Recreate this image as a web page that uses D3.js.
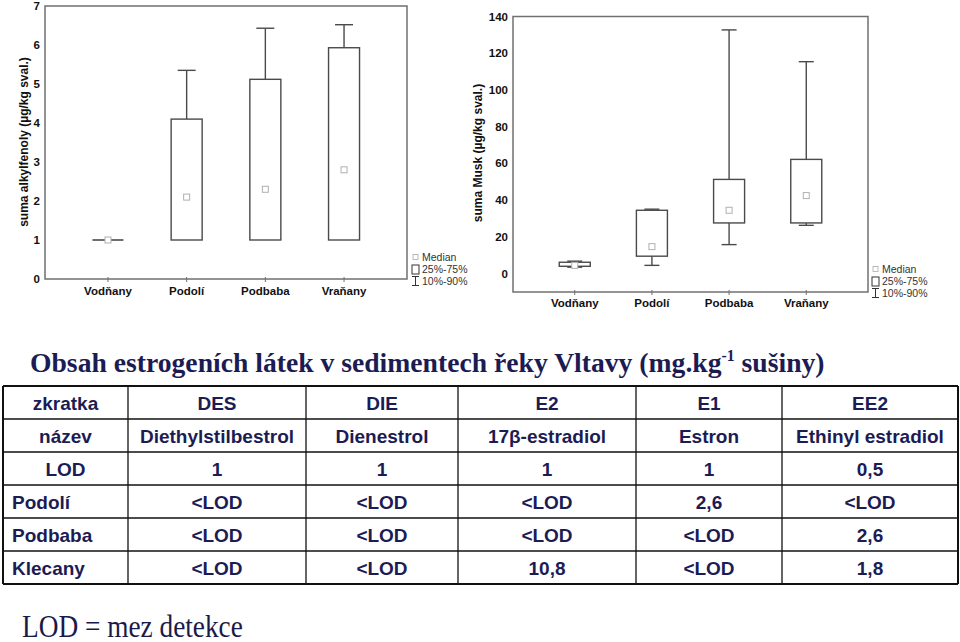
<!DOCTYPE html>
<html>
<head>
<meta charset="utf-8">
<script src="https://cdn.jsdelivr.net/npm/d3@7"></script>
<style>
  body { margin: 0; background: #fff; }
  svg { display: block; }
</style>
</head>
<body>
<svg id="chart" width="960" height="642"></svg>
<script>
// kategorie (lokality)
let cats = ["Vodňany", "Podolí", "Podbaba", "Vraňany"];

// suma alkylfenoly
let alkP10 = [1, 1, 1, 1];
let alkQ1 = [1, 1, 1, 1];
let alkMed = [1, 2.1, 2.3, 2.8];
let alkQ3 = [1, 4.1, 5.12, 5.93];
let alkP90 = [1, 5.35, 6.43, 6.52];
let alkTicks = [0, 1, 2, 3, 4, 5, 6, 7];

// suma Musk
let muskP10 = [3.5, 4.5, 15.8, 26.3];
let muskQ1 = [4, 9.5, 27.6, 27.6];
let muskMed = [4.5, 14.7, 34.5, 42.5];
let muskQ3 = [6.2, 34.5, 51.3, 62.2];
let muskP90 = [6.8, 35.1, 132.7, 115.4];
let muskTicks = [0, 20, 40, 60, 80, 100, 120, 140];

let legendLabels = ["Median", "25%-75%", "10%-90%"];

// tabulka
let tabHead = ["zkratka", "DES", "DIE", "E2", "E1", "EE2"];
let tabNames = ["název", "Diethylstilbestrol", "Dienestrol", "17β-estradiol", "Estron", "Ethinyl estradiol"];
let tabLod = ["LOD", "1", "1", "1", "1", "0,5"];
let tabSites = ["Podolí", "Podbaba", "Klecany"];
let tabValues = [
    ["<LOD", "<LOD", "<LOD", "2,6", "<LOD"],
    ["<LOD", "<LOD", "<LOD", "<LOD", "2,6"],
    ["<LOD", "<LOD", "10,8", "<LOD", "1,8"]
];

let svg = d3.select('#chart');
let navy = '#1c1c54';
let lineCol = '#4a4a4a';

function boxChart(opt) {
    let x = d3.scalePoint().domain(cats).range([opt.x0, opt.x1]).padding(0.8);
    let y = d3.scaleLinear().domain(opt.domain).range([opt.y1, opt.y0]);
    let g = svg.append('g');

    // ramecek
    g.append('rect')
        .attr('x', opt.x0).attr('y', opt.y0)
        .attr('width', opt.x1 - opt.x0).attr('height', opt.y1 - opt.y0)
        .attr('fill', 'none').attr('stroke', '#707070').attr('stroke-width', 1.5);

    // osa y
    g.selectAll('.ytick')
        .data(opt.ticks)
        .join('text')
        .attr('x', opt.x0 - 5)
        .attr('y', d => y(d) + 4)
        .attr('text-anchor', 'end')
        .attr('font-family', 'Liberation Sans, Arial, sans-serif')
        .attr('font-weight', 'bold')
        .attr('font-size', '11.5px')
        .attr('fill', '#111')
        .text(d => d);

    // osa x
    g.selectAll('.xtick')
        .data(cats)
        .join('line')
        .attr('x1', d => x(d)).attr('x2', d => x(d))
        .attr('y1', opt.y1 - 2).attr('y2', opt.y1 + 3)
        .attr('stroke', '#707070').attr('stroke-width', 1);

    g.selectAll('.xlab')
        .data(cats)
        .join('text')
        .attr('x', d => x(d))
        .attr('y', opt.labY)
        .attr('text-anchor', 'middle')
        .attr('font-family', 'Liberation Sans, Arial, sans-serif')
        .attr('font-weight', 'bold')
        .attr('font-size', '11.5px')
        .attr('fill', '#111')
        .text(d => d);

    g.append('text')
        .attr('transform', 'translate(' + opt.titleX + ',' + opt.titleY + ') rotate(-90)')
        .attr('text-anchor', 'middle')
        .attr('font-family', 'Liberation Sans, Arial, sans-serif')
        .attr('font-weight', 'bold')
        .attr('font-size', '12px')
        .attr('fill', '#111')
        .text(opt.title);

    let bw = 31;
    let cw = opt.cap;
    cats.forEach(function(c, i) {
        let cx = x(c);
        // whiskery
        [[opt.q3[i], opt.p90[i]], [opt.q1[i], opt.p10[i]]].forEach(function(w) {
            if (w[0] === w[1]) return;
            g.append('line')
                .attr('x1', cx).attr('x2', cx)
                .attr('y1', y(w[0])).attr('y2', y(w[1]))
                .attr('stroke', lineCol).attr('stroke-width', 1.4);
            g.append('line')
                .attr('x1', cx - cw / 2).attr('x2', cx + cw / 2)
                .attr('y1', y(w[1])).attr('y2', y(w[1]))
                .attr('stroke', lineCol).attr('stroke-width', 1.4);
        });
        // box
        if (opt.q3[i] === opt.q1[i]) {
            g.append('line')
                .attr('x1', cx - bw / 2).attr('x2', cx + bw / 2)
                .attr('y1', y(opt.q1[i])).attr('y2', y(opt.q1[i]))
                .attr('stroke', lineCol).attr('stroke-width', 1.6);
        } else {
            g.append('rect')
                .attr('x', cx - bw / 2).attr('y', y(opt.q3[i]))
                .attr('width', bw).attr('height', y(opt.q1[i]) - y(opt.q3[i]))
                .attr('fill', 'none').attr('stroke', lineCol).attr('stroke-width', 1.4);
        }
        // median
        g.append('rect')
            .attr('x', cx - 3).attr('y', y(opt.med[i]) - 3)
            .attr('width', 6).attr('height', 6)
            .attr('fill', '#fff').attr('stroke', '#b0b0b0').attr('stroke-width', 1);
    });

    // legenda
    let lg = g.append('g').attr('transform', 'translate(' + opt.legX + ',' + opt.legY + ')');
    lg.append('rect').attr('x', 1).attr('y', -2.5).attr('width', 5).attr('height', 5)
        .attr('fill', 'none').attr('stroke', '#aaa').attr('stroke-width', 0.8);
    lg.append('rect').attr('x', 0).attr('y', 8).attr('width', 7).attr('height', 9)
        .attr('fill', 'none').attr('stroke', '#333').attr('stroke-width', 1);
    lg.append('path').attr('d', 'M0,19.5H7M3.5,19.5V28.5M0,28.5H7')
        .attr('fill', 'none').attr('stroke', '#333').attr('stroke-width', 1);
    lg.selectAll('.lt')
        .data(legendLabels)
        .join('text')
        .attr('x', 10)
        .attr('y', (d, i) => i * 12 + 4)
        .attr('font-family', 'Liberation Sans, Arial, sans-serif')
        .attr('font-size', '10.5px')
        .attr('fill', '#333')
        .text(d => d);
}

boxChart({
    x0: 45, x1: 407, y0: 6, y1: 279, domain: [0, 7], ticks: alkTicks,
    p10: alkP10, q1: alkQ1, med: alkMed, q3: alkQ3, p90: alkP90,
    cap: 18, labY: 295, title: 'suma alkylfenoly (µg/kg sval.)', titleX: 27.5, titleY: 142,
    legX: 412, legY: 257
});

boxChart({
    x0: 513, x1: 868, y0: 16.5, y1: 292, domain: [-10, 140], ticks: muskTicks,
    p10: muskP10, q1: muskQ1, med: muskMed, q3: muskQ3, p90: muskP90,
    cap: 15, labY: 307, title: 'suma Musk (µg/kg sval.)', titleX: 482, titleY: 153,
    legX: 872, legY: 269
});

// nadpis
function fitText(sel, x, y, w) {
    let bb = sel.node().getBBox();
    sel.attr('transform', 'translate(' + x + ',' + y + ') scale(' + (w / bb.width) + ',1)');
}

let title = svg.append('text')
    .attr('font-family', 'Liberation Serif, Times New Roman, serif')
    .attr('font-weight', 'bold')
    .attr('font-size', '28px')
    .attr('fill', navy);
title.append('tspan').text('Obsah estrogeních látek v sedimentech řeky Vltavy (mg.kg');
title.append('tspan').attr('font-size', '16px').attr('dy', -11).text('-1');
title.append('tspan').attr('dy', 11).text(' sušiny)');
fitText(title, 30, 372, 795);

// tabulka
let colEdges = [3, 128, 306, 458, 636, 782, 958];
let rowTop = 386, rowH = 33;
let rows = [tabHead, tabNames, tabLod].concat(tabSites.map((s, i) => [s].concat(tabValues[i])));

let tg = svg.append('g');
rows.forEach(function(r, ri) {
    r.forEach(function(cell, ci) {
        let left = ri >= 3 && ci === 0;
        tg.append('text')
            .attr('x', left ? colEdges[0] + 9 : (colEdges[ci] + colEdges[ci + 1]) / 2)
            .attr('y', rowTop + ri * rowH + rowH / 2 + 7)
            .attr('text-anchor', left ? 'start' : 'middle')
            .attr('font-family', 'Liberation Sans, Arial, sans-serif')
            .attr('font-weight', 'bold')
            .attr('font-size', '19px')
            .attr('fill', navy)
            .text(cell);
    });
});
tg.selectAll('.hl')
    .data(d3.range(rows.length + 1))
    .join('line')
    .attr('x1', colEdges[0]).attr('x2', colEdges[colEdges.length - 1])
    .attr('y1', d => rowTop + d * rowH).attr('y2', d => rowTop + d * rowH)
    .attr('stroke', '#111').attr('stroke-width', d => (d === 0 || d === rows.length) ? 2 : 1.3);
tg.selectAll('.vl')
    .data(colEdges)
    .join('line')
    .attr('x1', d => d).attr('x2', d => d)
    .attr('y1', rowTop).attr('y2', rowTop + rows.length * rowH)
    .attr('stroke', '#111').attr('stroke-width', (d, i) => (i === 0 || i === colEdges.length - 1) ? 2 : 1.3);

// poznamka
let note = svg.append('text')
    .attr('font-family', 'Liberation Serif, Times New Roman, serif')
    .attr('font-size', '31px')
    .attr('fill', '#1a1a4a')
    .text('LOD = mez detekce');
fitText(note, 22, 637, 221);
</script>
</body>
</html>
